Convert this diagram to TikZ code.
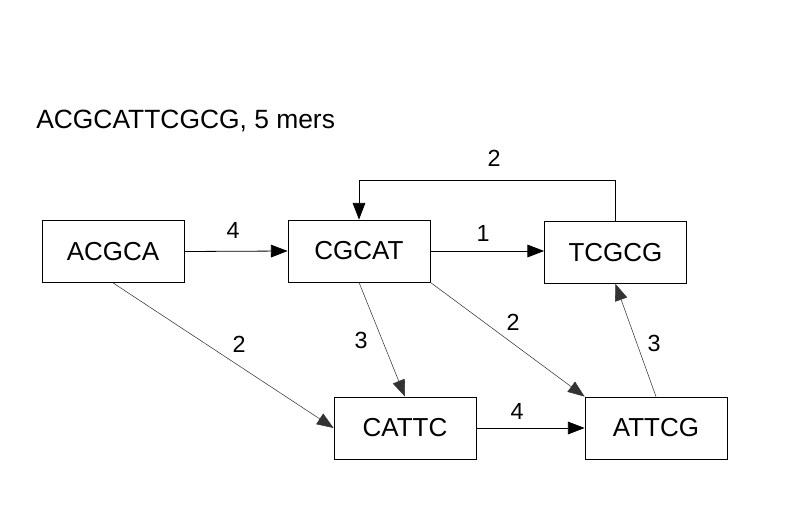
\documentclass[tikz,border=0pt]{standalone}
\usepackage{fontspec}
\setmainfont{Liberation Sans}
\usetikzlibrary{arrows.meta, calc, positioning}

\begin{document}
\begin{tikzpicture}[x=0.75pt, y=-0.75pt, >={Triangle[length=12.5pt, width=9.5pt]},
    kmer/.style={draw, line width=0.6pt, minimum width=106.5pt, minimum height=46.5pt,
        inner sep=0pt, font=\fontsize{19.5}{24}\selectfont},
    edge/.style={->, line width=0.4pt, draw=black!80},
    flat/.style={->, line width=0.6pt},
    wgt/.style={font=\fontsize{17.5}{21}\selectfont, inner sep=0pt}]
    \useasboundingbox (0,0) rectangle (794,529);

    % titel
    \node[anchor=base west, inner sep=0pt, font=\fontsize{19.8}{24}\selectfont] (title) at (36,128) {ACGCATTCGCG, 5 mers};

    % knopen
    \node[kmer] (acgca) at (113,251.5) {ACGCA};
    \node[kmer] (cgcat) at (359,251) {CGCAT};
    \node[kmer] (tcgcg) at (615.5,252.5) {TCGCG};
    \node[kmer] (cattc) at (405,428) {CATTC};
    \node[kmer] (attcg) at (656,428) {ATTCG};

    % pijlen
    \draw[flat] (acgca.east) -- (cgcat.west);
    \draw[flat] (cgcat.east) -- (cgcat.east -| tcgcg.west);
    \draw[flat] (tcgcg.north) -- ++(0,-41) -| (cgcat.north);
    \draw[flat] (cattc.east) -- (attcg.west);
    \draw[edge] (acgca.south) -- (cattc.west);
    \draw[edge] (cgcat.south) -- (cattc.north);
    \draw[edge] (cgcat.south east) -- (attcg.north west);
    \draw[edge] (attcg.north) -- (tcgcg.south);

    % gewichten
    \node[wgt] (w1) at (233,230) {4};
    \node[wgt] (w2) at (483,233) {1};
    \node[wgt] (w3) at (494,158) {2};
    \node[wgt] (w4) at (239,344) {2};
    \node[wgt] (w5) at (361,340) {3};
    \node[wgt] (w6) at (513,322) {2};
    \node[wgt] (w7) at (517,411) {4};
    \node[wgt] (w8) at (654,343) {3};
\end{tikzpicture}
\end{document}
